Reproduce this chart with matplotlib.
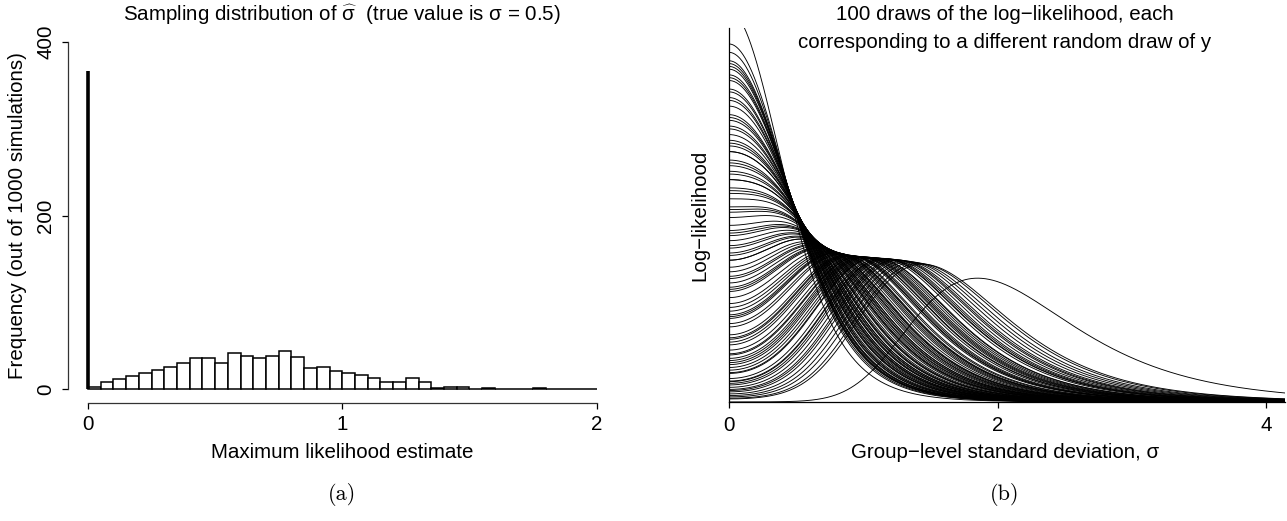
import numpy as np
import matplotlib.pyplot as plt

plt.rcParams['font.family'] = ['Liberation Sans', 'DejaVu Sans']
plt.rcParams['mathtext.fontset'] = 'custom'
plt.rcParams['mathtext.rm'] = 'Liberation Sans'
plt.rcParams['mathtext.it'] = 'Liberation Sans'

# (a) histogram of the ML estimates, bins of width 0.05 on [0, 2]
bin_edges = np.round(np.arange(0, 2.0001, 0.05), 2)
bin_counts = [2, 8, 12, 15, 19, 22, 25, 30, 36, 36,
              30, 42, 38, 36, 38, 44, 37, 24, 26, 21,
              19, 16, 13, 8, 8, 13, 8, 1, 3, 2,
              0, 1, 0, 0, 0, 1, 0, 0, 0, 0]
zero_count = 366  # simulations where the estimate is exactly 0

# (b) sum of squares of y for each of the 100 draws
half_df = 4.0
ss_draws = [1.2, 2.7, 2.4, 3.0, 3.5, 3.6, 3.7, 4.3, 4.4, 4.6,
            4.9, 5.0, 5.1, 5.6, 5.9, 6.0, 6.2, 6.2, 6.5, 6.9,
            7.0, 7.2, 7.2, 7.5, 7.9, 8.2, 8.3, 8.4, 8.9, 9.1,
            9.2, 9.3, 9.7, 10.0, 10.1, 10.3, 10.3, 10.8, 11.0, 11.3,
            11.5, 11.6, 11.7, 12.3, 12.5, 12.9, 13.0, 13.1, 13.6, 14.1,
            14.3, 14.4, 14.6, 15.2, 15.5, 15.6, 16.1, 16.3, 16.5, 17.1,
            17.4, 17.5, 18.2, 18.6, 18.7, 19.3, 19.8, 20.3, 20.6, 21.0,
            21.7, 22.4, 23.1, 24.0, 24.6, 35.4,
            3.3, 3.1, 3.2, 4.0, 4.1, 5.3, 5.4, 5.8, 6.6, 6.7, 7.6, 7.7,
            8.6, 9.5, 9.8, 10.6, 11.1, 12.0, 12.7, 13.4, 14.8, 15.9, 16.8, 19.0]

W, H = 1287, 521
fig = plt.figure(figsize=(W / 100, H / 100), dpi=100)
fs = 14.8


def px(x0, y0, x1, y1):
    # pixel box (top-left origin) -> figure fraction rect
    return [x0 / W, 1 - y1 / H, (x1 - x0) / W, (y1 - y0) / H]


# ---- left panel ----
ax1 = fig.add_axes(px(67.6, 28, 617, 403))
ax1.bar(bin_edges[:-1], bin_counts, width=0.05, align='edge',
        facecolor='white', edgecolor='black', linewidth=1.1)
ax1.vlines(0, 0, zero_count, colors='black', linewidth=2.6)
ax1.set_xlim(-0.08, 2.08)
ax1.set_ylim(-16, 416)
ax1.set_xticks([0, 1, 2])
ax1.set_yticks([0, 200, 400])
for s in ['top', 'right']:
    ax1.spines[s].set_visible(False)
ax1.spines['bottom'].set_bounds(0, 2)
ax1.spines['left'].set_bounds(0, 400)
ax1.tick_params(axis='x', length=4, width=0.9, pad=5, labelsize=fs)
ax1.tick_params(axis='y', length=4, width=0.9, pad=5, labelsize=fs,
                labelrotation=90)
for lab in ax1.get_yticklabels():
    lab.set_va('center')
for s in ['bottom', 'left']:
    ax1.spines[s].set_linewidth(0.9)
    ax1.spines[s].set_color('#333333')

fig.text(342 / W, 1 - 15 / H,
         r'Sampling distribution of $\widehat{\sigma}$  (true value is σ = 0.5)',
         ha='center', va='center', fontsize=fs)
fig.text(18 / W, 1 - 216 / H, 'Frequency (out of 1000 simulations)',
         rotation=90, ha='center', va='center', fontsize=fs)
fig.text(342 / W, 1 - 452 / H, 'Maximum likelihood estimate',
         ha='center', va='center', fontsize=fs)
fig.text(342 / W, 1 - 495 / H, '(a)', ha='center', va='center',
         fontsize=16, family='cmr10')

# ---- right panel ----
xmax = 4.14
ax2 = fig.add_axes(px(729, 28, 1285, 402))
grid = np.linspace(0, 40, 16001)
plot_x = grid[grid <= xmax + 0.01]
for S in ss_draws:
    u = 1 + grid ** 2
    logd = -half_df * np.log(u) - S / (2 * u)
    d = np.exp(logd - logd.max())
    d /= np.trapezoid(d, grid)
    ax2.plot(plot_x, d[:len(plot_x)], color='black', linewidth=0.65)
ax2.set_xlim(0, xmax)
ax2.set_ylim(0, 1.8)
ax2.set_xticks([0, 2, 4])
ax2.set_yticks([])
for s in ['top', 'right']:
    ax2.spines[s].set_visible(False)
for s in ['bottom', 'left']:
    ax2.spines[s].set_linewidth(0.9)
ax2.tick_params(axis='x', length=4, width=0.9, pad=6, labelsize=fs)

fig.text(1005 / W, 1 - 15 / H, '100 draws of the log\u2212likelihood, each',
         ha='center', va='center', fontsize=fs)
fig.text(1005 / W, 1 - 42 / H, 'corresponding to a different random draw of y',
         ha='center', va='center', fontsize=fs)
fig.text(700 / W, 1 - 215 / H, 'Log\u2212likelihood', rotation=90,
         ha='center', va='center', fontsize=fs)
fig.text(1005 / W, 1 - 452 / H, 'Group\u2212level standard deviation, σ',
         ha='center', va='center', fontsize=fs)
fig.text(1005 / W, 1 - 495 / H, '(b)', ha='center', va='center',
         fontsize=16, family='cmr10')

fig.savefig('out.png', dpi=100)
